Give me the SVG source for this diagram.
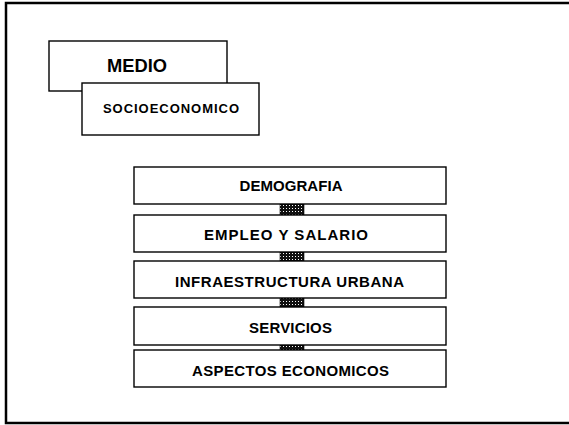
<svg xmlns="http://www.w3.org/2000/svg" width="569" height="425" viewBox="0 0 569 425">
<style>
.box{fill:#fff;stroke:#000;stroke-width:1.4}
.t{font-family:"Liberation Sans",Arial,sans-serif;font-weight:bold;fill:#000;text-anchor:middle}
.s{font-size:15px}
.link{fill:url(#hatch);stroke:#000;stroke-width:0.6}
</style>
<defs>
<pattern id="hatch" width="3" height="3" patternUnits="userSpaceOnUse">
<rect width="3" height="3" fill="#111"/>
<rect x="1" y="1" width="1" height="1" fill="#fff"/>
</pattern>
</defs>
<rect width="569" height="425" fill="#fff"/>
<path d="M569,3 H6 V423 H569" fill="none" stroke="#000" stroke-width="2.5"/>
<g id="medio">
<rect class="box" x="49" y="41" width="178" height="50"/>
<text class="t" x="137" y="72" font-size="17.5" textLength="60" lengthAdjust="spacingAndGlyphs">MEDIO</text>
</g>
<g id="socioeconomico">
<rect class="box" x="82" y="83" width="177" height="52"/>
<text class="t" x="171" y="113" font-size="13" textLength="136" lengthAdjust="spacing">SOCIOECONOMICO</text>
</g>
<g id="connectors">
<rect class="link" x="280" y="204" width="24" height="11"/>
<rect class="link" x="280" y="252" width="24" height="9"/>
<rect class="link" x="280" y="298" width="24" height="9"/>
<rect class="link" x="280" y="345" width="24" height="5"/>
</g>
<g id="demografia">
<rect class="box" x="134" y="167" width="312" height="37"/>
<text class="t s" x="291" y="190.5" textLength="103" lengthAdjust="spacing">DEMOGRAFIA</text>
</g>
<g id="empleo">
<rect class="box" x="134" y="215" width="312" height="37"/>
<text class="t s" x="286" y="239.5" textLength="164" lengthAdjust="spacing">EMPLEO Y SALARIO</text>
</g>
<g id="infraestructura">
<rect class="box" x="134" y="261" width="312" height="37"/>
<text class="t s" x="289.5" y="286.5" textLength="229" lengthAdjust="spacing">INFRAESTRUCTURA URBANA</text>
</g>
<g id="servicios">
<rect class="box" x="134" y="307" width="312" height="38"/>
<text class="t s" x="290.5" y="332.5" textLength="83" lengthAdjust="spacing">SERVICIOS</text>
</g>
<g id="aspectos">
<rect class="box" x="134" y="350" width="312" height="37"/>
<text class="t s" x="290.5" y="375.5" textLength="197" lengthAdjust="spacing">ASPECTOS ECONOMICOS</text>
</g>
</svg>
